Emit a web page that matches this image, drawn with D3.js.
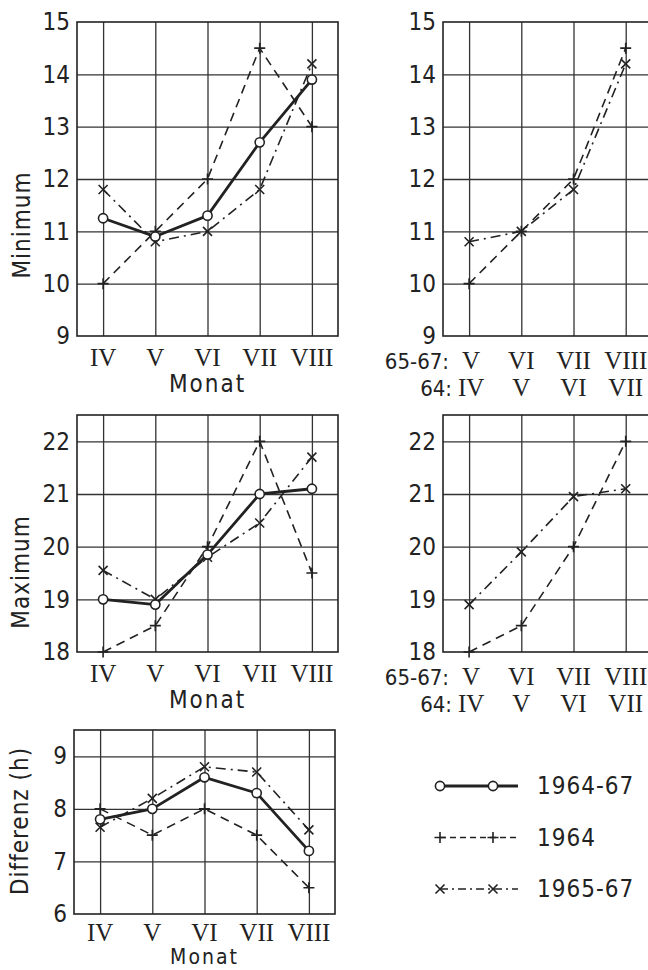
<!DOCTYPE html>
<html>
<head>
<meta charset="utf-8">
<script src="https://cdn.jsdelivr.net/npm/d3@7"></script>
<style>
body { margin: 0; background: #fff; }
text { font-family: "DejaVu Sans Condensed", "DejaVu Sans", sans-serif; fill: #222; }
.roman text, text.roman { font-family: "Liberation Serif", "DejaVu Serif", serif; }
</style>
</head>
<body>
<div id="chart"></div>
<script>
// months and shifted month labels
const months = ['IV', 'V', 'VI', 'VII', 'VIII'];
const shift6567 = ['V', 'VI', 'VII', 'VIII'];
const shift64 = ['IV', 'V', 'VI', 'VII'];

// Minimum
const minAll = [11.25, 10.9, 11.3, 12.7, 13.9];
const min64 = [10.0, 11.0, 12.0, 14.5, 13.0];
const min6567 = [11.8, 10.8, 11.0, 11.8, 14.2];
const minShift64 = [10.0, 11.0, 12.0, 14.5];
const minShift6567 = [10.8, 11.0, 11.8, 14.2];

// Maximum
const maxAll = [19.0, 18.9, 19.85, 21.0, 21.1];
const max64 = [18.0, 18.5, 20.0, 22.0, 19.5];
const max6567 = [19.55, 19.0, 19.8, 20.45, 21.7];
const maxShift64 = [18.0, 18.5, 20.0, 22.0];
const maxShift6567 = [18.9, 19.9, 20.95, 21.1];

// Differenz (h)
const diffAll = [7.8, 8.0, 8.6, 8.3, 7.2];
const diff64 = [8.0, 7.5, 8.0, 7.5, 6.5];
const diff6567 = [7.65, 8.2, 8.8, 8.7, 7.6];

const minTicks = [9, 10, 11, 12, 13, 14, 15];
const maxTicks = [18, 19, 20, 21, 22];
const diffTicks = [6, 7, 8, 9];

const seriesNames = ['1964-67', '1964', '1965-67'];

const width = 648;
const height = 970;
const step = 52.2;

const styles = {
    '1964-67': {width: 2.8, dash: null, marker: 'circle'},
    '1964': {width: 1.6, dash: '9,6', marker: 'plus'},
    '1965-67': {width: 1.6, dash: '10,5,2,5', marker: 'cross'}
};

const svg = d3.select('#chart')
    .append('svg')
    .attr('width', width)
    .attr('height', height);

// draw a marker at x, y
const drawMarker = (g, type, x, y) => {
    if (type === 'circle') {
        g.append('circle')
            .attr('cx', x).attr('cy', y).attr('r', 4.6)
            .attr('fill', '#fff').attr('stroke', '#222').attr('stroke-width', 1.6);
    } else if (type === 'plus') {
        const s = 5.5;
        g.append('path')
            .attr('d', `M${x - s},${y}H${x + s}M${x},${y - s}V${y + s}`)
            .attr('stroke', '#222').attr('stroke-width', 1.6);
    } else {
        const s = 4.5;
        g.append('path')
            .attr('d', `M${x - s},${y - s}L${x + s},${y + s}M${x - s},${y + s}L${x + s},${y - s}`)
            .attr('stroke', '#222').attr('stroke-width', 1.6);
    }
};

// draw one panel
const drawPanel = (cfg) => {
    const left = cfg.left;
    const right = left + cfg.cats.length * step;
    const g = svg.append('g');

    const x = d3.scalePoint()
        .domain(cfg.cats)
        .range([left, right])
        .padding(0.5);

    const y = d3.scaleLinear()
        .domain(cfg.domain)
        .range([cfg.bottom, cfg.top]);

    // vertical grid
    g.append('g')
        .attr('transform', 'translate(0,' + cfg.bottom + ')')
        .call(d3.axisBottom(x).tickSize(-(cfg.bottom - cfg.top)).tickFormat(''))
        .call(a => a.select('.domain').remove())
        .selectAll('line').attr('stroke', '#333').attr('stroke-width', 1.3);

    // horizontal grid
    const inner = cfg.ticks.filter(t => t > cfg.domain[0] && t < cfg.domain[1]);
    g.append('g')
        .attr('transform', 'translate(' + left + ',0)')
        .call(d3.axisLeft(y).tickValues(inner).tickSize(-(right - left)).tickFormat(''))
        .call(a => a.select('.domain').remove())
        .selectAll('line').attr('stroke', '#333').attr('stroke-width', 1.3);

    // frame
    g.append('rect')
        .attr('x', left).attr('y', cfg.top)
        .attr('width', right - left).attr('height', cfg.bottom - cfg.top)
        .attr('fill', 'none').attr('stroke', '#222').attr('stroke-width', 1.6);

    // y tick labels
    g.append('g')
        .attr('transform', 'translate(' + left + ',0)')
        .call(d3.axisLeft(y).tickValues(cfg.ticks).tickSize(0).tickPadding(7).tickFormat(d3.format('d')))
        .call(a => a.select('.domain').remove())
        .selectAll('text')
        .attr('font-size', 24)
        .style('font-family', '"DejaVu Sans Condensed", "DejaVu Sans", sans-serif')
        .style('fill', '#222');

    // x labels
    if (cfg.shifted) {
        const xl = g.append('g');
        xl.append('text')
            .attr('x', left + 6).attr('y', cfg.bottom + 33)
            .attr('text-anchor', 'end').attr('font-size', 22)
            .text('65-67:');
        xl.append('text')
            .attr('x', left + 9).attr('y', cfg.bottom + 60)
            .attr('text-anchor', 'end').attr('font-size', 22)
            .text('64:');
        xl.selectAll('.r1').data(shift6567).join('text')
            .attr('class', 'roman')
            .attr('x', (d, i) => x(cfg.cats[i]) + (i === 0 ? 2 : 0)).attr('y', cfg.bottom + 33)
            .attr('text-anchor', 'middle').attr('font-size', 25)
            .text(d => d);
        xl.selectAll('.r2').data(shift64).join('text')
            .attr('class', 'roman')
            .attr('x', (d, i) => x(cfg.cats[i]) + (i === 0 ? 2 : 0)).attr('y', cfg.bottom + 60)
            .attr('text-anchor', 'middle').attr('font-size', 25)
            .text(d => d);
    } else {
        const last = cfg.bottom + 56 > 960;
        g.selectAll('.mlab').data(cfg.cats).join('text')
            .attr('class', 'roman')
            .attr('x', d => x(d)).attr('y', cfg.bottom + (last ? 27 : 30))
            .attr('text-anchor', 'middle').attr('font-size', 25)
            .text(d => d);
        g.append('text')
            .attr('x', (left + right) / 2).attr('y', last ? 964 : cfg.bottom + 56)
            .attr('text-anchor', 'middle').attr('font-size', last ? 21 : 24)
            .attr('letter-spacing', 2)
            .text('Monat');
    }

    // y axis title
    if (cfg.title) {
        g.append('text')
            .attr('transform', 'translate(' + cfg.titleX + ',' + cfg.titleY + ') rotate(-90)')
            .attr('text-anchor', 'middle').attr('dy', '0.35em')
            .attr('font-size', 24).attr('letter-spacing', 1)
            .text(cfg.title);
    }

    // series lines
    cfg.series.forEach(s => {
        const st = styles[s.name];
        const pts = s.values.map((v, i) => [x(cfg.cats[i]), y(v)]);
        g.append('path')
            .datum(pts)
            .attr('fill', 'none')
            .attr('stroke', '#222')
            .attr('stroke-width', st.width)
            .attr('stroke-dasharray', st.dash)
            .attr('stroke-linejoin', 'round')
            .attr('d', d3.line());
    });
    cfg.series.forEach(s => {
        const st = styles[s.name];
        s.values.forEach((v, i) => drawMarker(g, st.marker, x(cfg.cats[i]), y(v)));
    });
};

// Minimum
drawPanel({
    left: 77, top: 22, bottom: 336, domain: [9, 15], ticks: minTicks, cats: months,
    title: 'Minimum', titleX: 22, titleY: 225,
    series: [{name: '1964', values: min64}, {name: '1965-67', values: min6567}, {name: '1964-67', values: minAll}]
});
drawPanel({
    left: 443, top: 22, bottom: 336, domain: [9, 15], ticks: minTicks, cats: [0, 1, 2, 3], shifted: true,
    series: [{name: '1964', values: minShift64}, {name: '1965-67', values: minShift6567}]
});

// Maximum
drawPanel({
    left: 77, top: 415, bottom: 652, domain: [18, 22.5], ticks: maxTicks, cats: months,
    title: 'Maximum', titleX: 21, titleY: 572,
    series: [{name: '1964', values: max64}, {name: '1965-67', values: max6567}, {name: '1964-67', values: maxAll}]
});
drawPanel({
    left: 443, top: 415, bottom: 652, domain: [18, 22.5], ticks: maxTicks, cats: [0, 1, 2, 3], shifted: true,
    series: [{name: '1964', values: maxShift64}, {name: '1965-67', values: maxShift6567}]
});

// Differenz
drawPanel({
    left: 74, top: 730, bottom: 914, domain: [6, 9.5], ticks: diffTicks, cats: months,
    title: 'Differenz (h)', titleX: 20, titleY: 821,
    series: [{name: '1964', values: diff64}, {name: '1965-67', values: diff6567}, {name: '1964-67', values: diffAll}]
});

// legend
const legendY = d3.scalePoint().domain(seriesNames).range([786, 889]);
const legend = svg.append('g');
seriesNames.forEach(name => {
    const st = styles[name];
    const yy = legendY(name);
    legend.append('line')
        .attr('x1', 440).attr('x2', 518).attr('y1', yy).attr('y2', yy)
        .attr('stroke', '#222').attr('stroke-width', st.width)
        .attr('stroke-dasharray', st.dash ? (name === '1964' ? '6,4' : '8,4,2,4') : null);
    drawMarker(legend, st.marker, 440, yy);
    drawMarker(legend, st.marker, 493, yy);
    legend.append('text')
        .attr('x', 537).attr('y', yy).attr('dy', '0.35em')
        .attr('font-size', 24).attr('letter-spacing', 1)
        .text(name);
});
</script>
</body>
</html>
